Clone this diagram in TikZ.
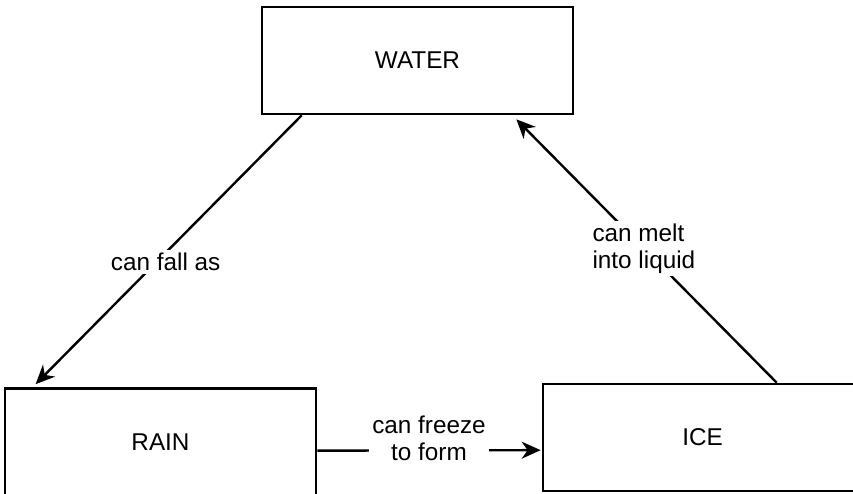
\documentclass[tikz,border=0pt]{standalone}
\usepackage{fontspec}
\setmainfont{Liberation Sans}
\usetikzlibrary{arrows.meta,calc}
\begin{document}
\begin{tikzpicture}[x=1pt,y=-1pt,
  box/.style={draw=black,line width=2.7pt,rectangle,minimum width=311pt,minimum height=107pt,inner sep=0pt,
    font=\fontsize{24.3}{27}\selectfont},
  conn/.style={line width=2.4pt,-{Stealth[length=19pt,width=17pt,inset=6pt]}},
  lbl/.style={fill=white,inner sep=3pt,font=\fontsize{24.3}{27}\selectfont}]
\useasboundingbox (0,0) rectangle (853,493);
\clip (0,0) rectangle (853,493);
\fill[white] (0,0) rectangle (853,493);
\node[box] (water) at (417.5,60.5) {WATER};
\node[box] (rain) at (160.5,442) {RAIN};
\node[box,minimum width=319pt] (ice) at (702.5,437.5) {ICE};
\coordinate (w1) at ($(water.south west)+(41,0)$);
\coordinate (r1) at ($(rain.north west)+(32,-3)$);
\coordinate (i1) at ($(ice.north west)+(235,0)$);
\coordinate (w2) at ($(water.south east)+(-58,4)$);
\coordinate (r2) at ($(rain.north east)+(0,63.5)$);
\coordinate (i2) at ($(ice.north west)+(-1,67.5)$);
\draw[conn] (w1) -- (r1) node[lbl,pos=0.545,xshift=9pt] {can fall as};
\draw[conn] (i1) -- (w2) node[lbl,pos=0.51,align=left] {can melt\\into liquid};
\draw[conn] (r2) -- (i2) node[lbl,midway,yshift=12pt,align=center] {can freeze\\to form};
\end{tikzpicture}
\end{document}
